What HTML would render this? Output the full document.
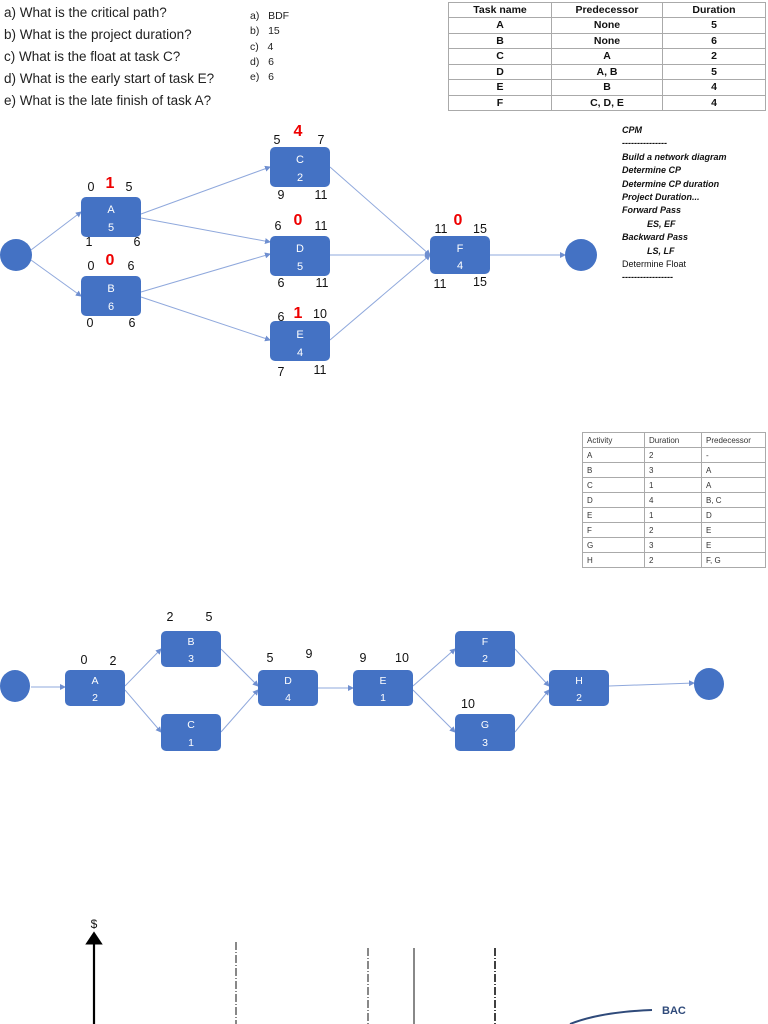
<!DOCTYPE html>
<html><head><meta charset="utf-8"><style>
body{margin:0;width:768px;height:1024px;background:#fff;position:relative;overflow:hidden;font-family:"Liberation Sans",sans-serif}
.t{position:absolute;white-space:nowrap}
table{border-collapse:collapse;position:absolute}
td{border:1px solid #aaa;padding:0}
</style></head><body>
<div class="t" style="left:4px;top:2px;font-size:13.5px;line-height:22px;color:#222">a) What is the critical path?<br>b) What is the project duration?<br>c) What is the float at task C?<br>d) What is the early start of task E?<br>e) What is the late finish of task A?</div>
<div class="t" style="left:250px;top:9px;font-size:10.5px;line-height:15.3px;color:#222">a)&nbsp;&nbsp; BDF<br>b)&nbsp;&nbsp; 15<br>c)&nbsp;&nbsp; 4<br>d)&nbsp;&nbsp; 6<br>e)&nbsp;&nbsp; 6</div>
<table style="left:448px;top:2px;width:318px;font-size:10.5px;text-align:center;color:#111;font-weight:bold">
<tr style="height:15px"><td style="width:102px">Task name</td><td style="width:110px">Predecessor</td><td>Duration</td></tr>
<tr style="height:15.5px"><td>A</td><td>None</td><td>5</td></tr>
<tr style="height:15.5px"><td>B</td><td>None</td><td>6</td></tr>
<tr style="height:15.5px"><td>C</td><td>A</td><td>2</td></tr>
<tr style="height:15.5px"><td>D</td><td>A, B</td><td>5</td></tr>
<tr style="height:15.5px"><td>E</td><td>B</td><td>4</td></tr>
<tr style="height:15.5px"><td>F</td><td>C, D, E</td><td>4</td></tr>
</table>
<div class="t" style="left:622px;top:124px;font-size:9px;line-height:13.4px;font-style:italic;font-weight:bold;color:#111">CPM<br>---------------<br>Build a network diagram<br>Determine CP<br>Determine CP duration<br>Project Duration...<br>Forward Pass<br>&nbsp;&nbsp;&nbsp;&nbsp;&nbsp;&nbsp;&nbsp;&nbsp;&nbsp;&nbsp;ES, EF<br>Backward Pass<br>&nbsp;&nbsp;&nbsp;&nbsp;&nbsp;&nbsp;&nbsp;&nbsp;&nbsp;&nbsp;LS, LF<br><span style="font-style:normal;font-weight:normal">Determine Float</span><br>-----------------</div>
<table style="left:582px;top:432px;width:184px;font-size:8px;color:#333;text-align:left">
<tr style="height:15px"><td style="width:57px;padding-left:4px">Activity</td><td style="width:52px;padding-left:4px">Duration</td><td style="padding-left:4px">Predecessor</td></tr>
<tr style="height:15px"><td style="padding-left:4px">A</td><td style="padding-left:4px">2</td><td style="padding-left:4px">-</td></tr>
<tr style="height:15px"><td style="padding-left:4px">B</td><td style="padding-left:4px">3</td><td style="padding-left:4px">A</td></tr>
<tr style="height:15px"><td style="padding-left:4px">C</td><td style="padding-left:4px">1</td><td style="padding-left:4px">A</td></tr>
<tr style="height:15px"><td style="padding-left:4px">D</td><td style="padding-left:4px">4</td><td style="padding-left:4px">B, C</td></tr>
<tr style="height:15px"><td style="padding-left:4px">E</td><td style="padding-left:4px">1</td><td style="padding-left:4px">D</td></tr>
<tr style="height:15px"><td style="padding-left:4px">F</td><td style="padding-left:4px">2</td><td style="padding-left:4px">E</td></tr>
<tr style="height:15px"><td style="padding-left:4px">G</td><td style="padding-left:4px">3</td><td style="padding-left:4px">E</td></tr>
<tr style="height:15px"><td style="padding-left:4px">H</td><td style="padding-left:4px">2</td><td style="padding-left:4px">F, G</td></tr>
</table>
<svg width="768" height="1024" style="position:absolute;left:0;top:0" font-family="Liberation Sans, sans-serif">
<defs><marker id="ar" markerWidth="6" markerHeight="6" refX="5" refY="3" orient="auto"><path d="M0,0L6,3L0,6z" fill="#6f8fd0"/></marker>
<marker id="ak" markerWidth="6" markerHeight="8" refX="3" refY="4" orient="auto"><path d="M0,0L6,4L0,8z" fill="#000"/></marker></defs>
<g stroke="#8fa8dc" stroke-width="1" fill="none" marker-end="url(#ar)">
<line x1="31" y1="250" x2="81" y2="212"/><line x1="31" y1="260" x2="81" y2="296"/>
<line x1="141" y1="214" x2="270" y2="167"/><line x1="141" y1="218" x2="270" y2="242"/>
<line x1="141" y1="292" x2="270" y2="254"/><line x1="141" y1="297" x2="270" y2="340"/>
<line x1="330" y1="167" x2="430" y2="255"/><line x1="330" y1="255" x2="430" y2="255"/><line x1="330" y1="340" x2="430" y2="255"/>
<line x1="490" y1="255" x2="565" y2="255"/>
<line x1="31" y1="687" x2="65" y2="687"/><line x1="125" y1="686" x2="161" y2="649"/><line x1="125" y1="690" x2="161" y2="732"/>
<line x1="221" y1="649" x2="258" y2="686"/><line x1="221" y1="732" x2="258" y2="690"/>
<line x1="318" y1="688" x2="353" y2="688"/><line x1="413" y1="686" x2="455" y2="649"/><line x1="413" y1="690" x2="455" y2="732"/>
<line x1="515" y1="649" x2="549" y2="686"/><line x1="515" y1="732" x2="549" y2="690"/>
<line x1="609" y1="686" x2="694" y2="683"/>
</g>
<g fill="#4472c4">
<circle cx="16" cy="255" r="16"/><circle cx="581" cy="255" r="16"/>
<rect x="81" y="197" width="60" height="40" rx="5"/><rect x="81" y="276" width="60" height="40" rx="5"/>
<rect x="270" y="147" width="60" height="40" rx="5"/><rect x="270" y="236" width="60" height="40" rx="5"/>
<rect x="270" y="321" width="60" height="40" rx="5"/><rect x="430" y="236" width="60" height="38" rx="5"/>
<ellipse cx="15" cy="686" rx="15" ry="16"/><ellipse cx="709" cy="684" rx="15" ry="16"/>
<rect x="65" y="670" width="60" height="36" rx="5"/><rect x="161" y="631" width="60" height="36" rx="5"/>
<rect x="161" y="714" width="60" height="37" rx="5"/><rect x="258" y="670" width="60" height="36" rx="5"/>
<rect x="353" y="670" width="60" height="36" rx="5"/><rect x="455" y="631" width="60" height="36" rx="5"/>
<rect x="455" y="714" width="60" height="37" rx="5"/><rect x="549" y="670" width="60" height="36" rx="5"/>
</g>
<g fill="#fff" font-size="11" text-anchor="middle">
<text x="111" y="213">A</text><text x="111" y="231">5</text>
<text x="111" y="292">B</text><text x="111" y="310">6</text>
<text x="300" y="163">C</text><text x="300" y="181">2</text>
<text x="300" y="252">D</text><text x="300" y="270">5</text>
<text x="300" y="338">E</text><text x="300" y="356">4</text>
<text x="460" y="252">F</text><text x="460" y="269">4</text>
<g font-size="10.5">
<text x="95" y="684">A</text><text x="95" y="701">2</text>
<text x="191" y="645">B</text><text x="191" y="662">3</text>
<text x="191" y="728">C</text><text x="191" y="746">1</text>
<text x="288" y="684">D</text><text x="288" y="701">4</text>
<text x="383" y="684">E</text><text x="383" y="701">1</text>
<text x="485" y="645">F</text><text x="485" y="662">2</text>
<text x="485" y="728">G</text><text x="485" y="746">3</text>
<text x="579" y="684">H</text><text x="579" y="701">2</text></g>
</g>
<g fill="#111" font-size="12.5" text-anchor="middle">
<text x="91" y="191">0</text><text x="129" y="191">5</text><text x="89" y="246">1</text><text x="137" y="246">6</text>
<text x="91" y="270">0</text><text x="131" y="270">6</text><text x="90" y="327">0</text><text x="132" y="327">6</text>
<text x="277" y="144">5</text><text x="321" y="144">7</text><text x="281" y="199">9</text><text x="321" y="199">11</text>
<text x="278" y="230">6</text><text x="321" y="230">11</text><text x="281" y="287">6</text><text x="322" y="287">11</text>
<text x="281" y="321">6</text><text x="320" y="318">10</text><text x="281" y="376">7</text><text x="320" y="374">11</text>
<text x="441" y="233">11</text><text x="480" y="233">15</text><text x="440" y="288">11</text><text x="480" y="286">15</text>
<text x="84" y="664">0</text><text x="113" y="665">2</text><text x="170" y="621">2</text><text x="209" y="621">5</text>
<text x="270" y="662">5</text><text x="309" y="658">9</text><text x="363" y="662">9</text><text x="402" y="662">10</text>
<text x="468" y="708">10</text>
</g>
<g fill="#e00" font-size="16" font-weight="bold" text-anchor="middle">
<text x="110" y="188">1</text><text x="110" y="265">0</text><text x="298" y="136">4</text>
<text x="298" y="225">0</text><text x="298" y="318">1</text><text x="458" y="225">0</text>
</g>
<text x="94" y="928" font-size="12" text-anchor="middle" fill="#111">$</text>
<line x1="94" y1="1024" x2="94" y2="938" stroke="#000" stroke-width="2.2" marker-end="url(#ak)"/>
<g stroke="#111" fill="none">
<line x1="236" y1="942" x2="236" y2="1024" stroke-dasharray="8,2,1,2"/>
<line x1="368" y1="948" x2="368" y2="1024" stroke-dasharray="8,2,1,2"/>
<line x1="414" y1="948" x2="414" y2="1024"/>
<line x1="495" y1="948" x2="495" y2="1024" stroke-width="1.6" stroke-dasharray="8,2,1,2"/>
<path d="M570,1024 Q600,1012 652,1010" stroke="#2f4a7a" stroke-width="2"/>
</g>
<text x="662" y="1014" font-size="11" font-weight="bold" fill="#2f4a7a">BAC</text>
</svg>
</body></html>
